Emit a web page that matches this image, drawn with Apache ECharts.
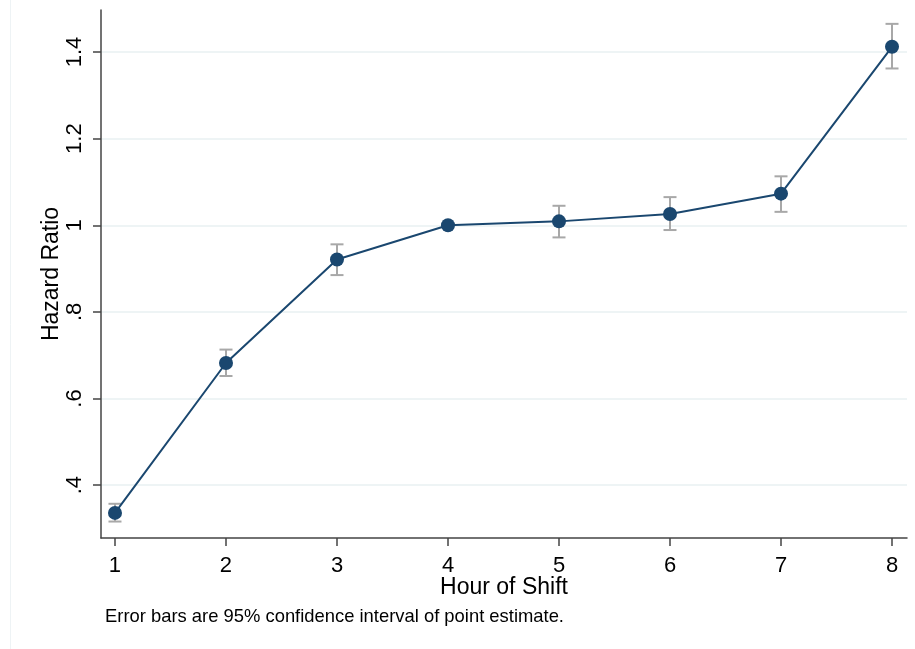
<!DOCTYPE html>
<html>
<head>
<meta charset="utf-8">
<script src="https://cdn.jsdelivr.net/npm/echarts@6/dist/echarts.min.js"></script>
<style>
html,body{margin:0;padding:0;background:#fff;}
#chart{width:915px;height:649px;}
</style>
</head>
<body>
<div id="chart"></div>
<script>
const hours = [1, 2, 3, 4, 5, 6, 7, 8];
const hazardRatio = [0.336, 0.682, 0.921, 1.000, 1.009, 1.026, 1.073, 1.412];
const ciLow  = [0.316, 0.652, 0.885, null, 0.972, 0.989, 1.031, 1.362];
const ciHigh = [0.357, 0.713, 0.956, null, 1.045, 1.065, 1.113, 1.465];
const yTicks = [0.4, 0.6, 0.8, 1.0, 1.2, 1.4];
const yTickLabels = ['.4', '.6', '.8', '1', '1.2', '1.4'];
const xTicks = [1, 2, 3, 4, 5, 6, 7, 8];

const FONT = '"Liberation Sans", Arial, sans-serif';
const chart = echarts.init(document.getElementById('chart'), null, {renderer: 'canvas'});

const lineData = hours.map((h, i) => [h, hazardRatio[i]]);
const errData = hours.map((h, i) => [h, ciLow[i], ciHigh[i]]).filter(d => d[1] !== null);

const option = {
  animation: false,
  backgroundColor: '#ffffff',
  graphic: [
    {type: 'line', shape: {x1: 10.5, y1: 0, x2: 10.5, y2: 649}, style: {stroke: '#eef3f5', lineWidth: 1}, silent: true},
    {type: 'text', left: 105, top: 608, style: {text: 'Error bars are 95% confidence interval of point estimate.', font: '18.4px ' + FONT, fill: '#000'}}
  ],
  grid: {left: 101, right: 8, top: 10, bottom: 111, containLabel: false},
  xAxis: {
    type: 'value',
    min: 0.874,
    max: 8.135,
    name: 'Hour of Shift',
    nameLocation: 'middle',
    nameGap: 38,
    nameMoveOverlap: false,
    nameTextStyle: {fontFamily: FONT, fontSize: 23, color: '#000'},
    axisLine: {show: true, onZero: false, lineStyle: {color: '#444', width: 1.5}},
    axisTick: {show: true, length: 8, lineStyle: {color: '#444', width: 1.5}, customValues: xTicks},
    axisLabel: {customValues: xTicks, fontFamily: FONT, fontSize: 22, color: '#000', margin: 17,
      formatter: v => String(v)},
    splitLine: {show: false}
  },
  yAxis: {
    type: 'value',
    min: 0.278,
    max: 1.497,
    name: 'Hazard Ratio',
    nameLocation: 'middle',
    nameRotate: 90,
    nameGap: 38,
    nameMoveOverlap: false,
    nameTextStyle: {fontFamily: FONT, fontSize: 23, color: '#000'},
    axisLine: {show: true, onZero: false, lineStyle: {color: '#444', width: 1.5}},
    axisTick: {show: true, length: 8, lineStyle: {color: '#444', width: 1.5}, customValues: yTicks},
    axisLabel: {customValues: yTicks, rotate: 90, fontFamily: FONT, fontSize: 22, color: '#000', margin: 15,
      formatter: v => {
        const i = yTicks.findIndex(t => Math.abs(t - v) < 1e-6);
        return i >= 0 ? yTickLabels[i] : '';
      }},
    splitLine: {show: true, lineStyle: {color: '#e8f0f2', width: 1.5}}
  },
  series: [
    {
      type: 'custom',
      z: 1,
      data: errData,
      renderItem: function (params, api) {
        const x = api.value(0);
        const pLo = api.coord([x, api.value(1)]);
        const pHi = api.coord([x, api.value(2)]);
        const hw = 6.5;
        const st = {stroke: '#a8a8a8', lineWidth: 2};
        return {
          type: 'group',
          children: [
            {type: 'line', shape: {x1: pLo[0], y1: pLo[1], x2: pHi[0], y2: pHi[1]}, style: st},
            {type: 'line', shape: {x1: pLo[0] - hw, y1: pLo[1], x2: pLo[0] + hw, y2: pLo[1]}, style: st},
            {type: 'line', shape: {x1: pHi[0] - hw, y1: pHi[1], x2: pHi[0] + hw, y2: pHi[1]}, style: st}
          ]
        };
      }
    },
    {
      type: 'line',
      z: 3,
      data: lineData,
      symbol: 'circle',
      symbolSize: 14,
      lineStyle: {color: '#1a476f', width: 2},
      itemStyle: {color: '#1a476f', borderWidth: 0}
    }
  ]
};
chart.setOption(option);
</script>
</body>
</html>
